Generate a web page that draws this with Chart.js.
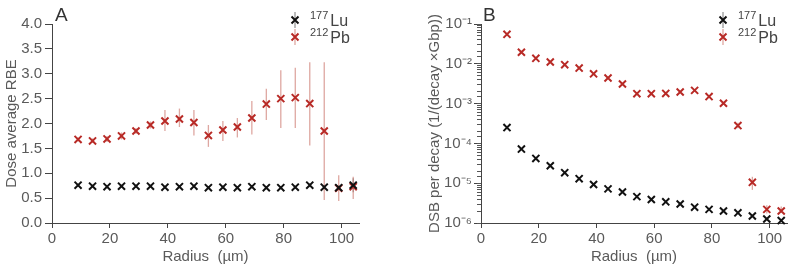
<!DOCTYPE html>
<html>
<head>
<meta charset="utf-8">
<script src="https://cdn.jsdelivr.net/npm/chart.js@4/dist/chart.umd.min.js"></script>
<style>
  body { margin: 0; background: #fff; }
  #wrap { position: relative; width: 794px; height: 270px; }
  .panel { position: absolute; top: 0; height: 270px; }
</style>
</head>
<body>
<div id="wrap">
  <div class="panel" style="left:0;width:400px"><canvas id="rbeChart"></canvas></div>
  <div class="panel" style="left:400px;width:394px"><canvas id="dsbChart"></canvas></div>
</div>
<script>
// Radial positions (um)
const radius = [9, 14, 19, 24, 29, 34, 39, 44, 49, 54, 59, 64, 69, 74, 79, 84, 89, 94, 99, 104];

// Panel A: dose average RBE
const rbeLu = [0.76, 0.74, 0.73, 0.74, 0.74, 0.74, 0.72, 0.73, 0.74, 0.71, 0.72, 0.71, 0.73, 0.71, 0.71, 0.72, 0.76, 0.72, 0.71, 0.76];
const rbeLuLow = [0.73, 0.71, 0.70, 0.71, 0.71, 0.71, 0.69, 0.70, 0.71, 0.68, 0.69, 0.68, 0.70, 0.68, 0.68, 0.69, 0.72, 0.68, 0.66, 0.62];
const rbeLuHigh = [0.79, 0.77, 0.76, 0.77, 0.77, 0.77, 0.75, 0.76, 0.77, 0.74, 0.75, 0.74, 0.76, 0.74, 0.74, 0.75, 0.80, 0.76, 0.76, 0.90];
const rbePb = [1.68, 1.65, 1.69, 1.75, 1.85, 1.97, 2.05, 2.09, 2.02, 1.76, 1.87, 1.93, 2.11, 2.39, 2.50, 2.52, 2.40, 1.85, 0.70, 0.73];
const rbePbLow = [1.64, 1.61, 1.63, 1.68, 1.79, 1.90, 1.85, 1.93, 1.76, 1.53, 1.65, 1.72, 1.78, 2.07, 1.91, 1.91, 1.56, 0.46, 0.44, 0.48];
const rbePbHigh = [1.72, 1.70, 1.75, 1.82, 1.91, 2.04, 2.27, 2.30, 2.27, 1.97, 2.05, 2.11, 2.45, 2.70, 3.07, 3.12, 3.23, 3.23, 0.96, 0.93];

// Panel B: DSB per decay (1/(decay x Gbp))
const dsbLu = [2.5e-4, 7.2e-5, 4.2e-5, 2.75e-5, 1.84e-5, 1.3e-5, 9.3e-6, 7.2e-6, 6.0e-6, 4.6e-6, 3.9e-6, 3.4e-6, 3.0e-6, 2.5e-6, 2.2e-6, 2.0e-6, 1.8e-6, 1.5e-6, 1.26e-6, 1.15e-6];
const dsbPb = [0.055, 0.0195, 0.0137, 0.0111, 0.0095, 0.0078, 0.0056, 0.0044, 0.0031, 0.00178, 0.00178, 0.0018, 0.00196, 0.00215, 0.0015, 0.00102, 0.00028, 1.05e-5, 2.2e-6, 2.0e-6];
const dsbPbLow = [0.052, 0.0185, 0.013, 0.0105, 0.009, 0.0074, 0.0053, 0.0042, 0.0029, 0.0017, 0.0017, 0.0017, 0.00186, 0.00204, 0.00142, 0.00096, 0.00024, 6.8e-6, 1.74e-6, 1.8e-6];
const dsbPbHigh = [0.058, 0.0205, 0.0144, 0.0117, 0.01, 0.0082, 0.0059, 0.0046, 0.0033, 0.00187, 0.00187, 0.0019, 0.00206, 0.00226, 0.00158, 0.00108, 0.00033, 1.45e-5, 2.8e-6, 2.6e-6];

// Tick labels
const radiusTicks = [0, 20, 40, 60, 80, 100];
const decadeTicks = [1e-6, 1e-5, 1e-4, 1e-3, 1e-2, 1e-1];

// Legend labels
const luLabel = { sup: "177", main: "Lu" };
const pbLabel = { sup: "212", main: "Pb" };

const FONT = "'Liberation Sans', Arial, sans-serif";
const LU_COLOR = "#111111";
const PB_COLOR = "#b82a26";
const LU_BAR = "rgba(110,110,110,0.7)";
const PB_BAR = "rgba(205,120,110,0.65)";
const TEXT = "#5a5a5a";

Chart.defaults.font.family = FONT;
Chart.defaults.color = TEXT;

function points(ys) {
  return radius.map((r, i) => ({ x: r, y: ys[i] }));
}

const SUP = { "-": "\u207B", "0": "\u2070", "1": "\u00B9", "2": "\u00B2", "3": "\u00B3", "4": "\u2074", "5": "\u2075", "6": "\u2076", "7": "\u2077", "8": "\u2078", "9": "\u2079" };
function decadeLabel(v) {
  const e = Math.round(Math.log10(v));
  return "10" + String(e).split("").map((c) => SUP[c]).join("");
}

// vertical error bars drawn under the markers
const errorBarsPlugin = {
  id: "errorBars",
  beforeDatasetsDraw(chart) {
    const ctx = chart.ctx;
    chart.data.datasets.forEach((ds, i) => {
      if (!ds.errLow) return;
      const meta = chart.getDatasetMeta(i);
      const xs = chart.scales[meta.xAxisID];
      const ys = chart.scales[meta.yAxisID];
      ctx.save();
      ctx.strokeStyle = ds.errColor;
      ctx.lineWidth = 1.3;
      ds.data.forEach((p, j) => {
        const x = xs.getPixelForValue(p.x);
        ctx.beginPath();
        ctx.moveTo(x, ys.getPixelForValue(ds.errLow[j]));
        ctx.lineTo(x, ys.getPixelForValue(ds.errHigh[j]));
        ctx.stroke();
      });
      ctx.restore();
    });
  },
};

// legend in the top right corner + panel letter
const panelDecorPlugin = {
  id: "panelDecor",
  afterDraw(chart, args, opts) {
    const ctx = chart.ctx;
    ctx.save();
    ctx.fillStyle = "#333";
    ctx.font = "19px " + FONT;
    ctx.textBaseline = "alphabetic";
    ctx.fillText(opts.letter, opts.letterX, 21);

    chart.data.datasets.forEach((ds, i) => {
      const y = opts.legendY + i * 17;
      const x = opts.legendX;
      ctx.strokeStyle = ds.errColor;
      ctx.lineWidth = 1.3;
      ctx.beginPath();
      ctx.moveTo(x, y - 8);
      ctx.lineTo(x, y + 8);
      ctx.stroke();
      ctx.strokeStyle = ds.borderColor;
      ctx.lineWidth = 2;
      ctx.beginPath();
      ctx.moveTo(x - 3.5, y - 3.5);
      ctx.lineTo(x + 3.5, y + 3.5);
      ctx.moveTo(x - 3.5, y + 3.5);
      ctx.lineTo(x + 3.5, y - 3.5);
      ctx.stroke();

      const lab = ds.legendText;
      ctx.fillStyle = "#444";
      ctx.font = "11px " + FONT;
      ctx.fillText(lab.sup, x + 15, y - 1);
      const w = ctx.measureText(lab.sup).width;
      ctx.font = "16px " + FONT;
      ctx.fillText(lab.main, x + 17 + w, y + 6);
    });
    ctx.restore();
  },
};

function axisBase() {
  return {
    border: { display: true, color: "#444", width: 1 },
    grid: { drawOnChartArea: false, drawTicks: true, color: "#444" },
  };
}

function radiusAxis() {
  return {
    ...axisBase(),
    type: "linear",
    min: 0,
    max: 106,
    grid: { drawOnChartArea: false, drawTicks: true, tickLength: 5, color: "#444" },
    ticks: { padding: 2, font: { size: 15 }, color: TEXT },
    afterBuildTicks: (scale) => {
      scale.ticks = radiusTicks.map((v) => ({ value: v }));
    },
    afterFit: (scale) => {
      scale.height = 47;
    },
    title: { display: true, text: "Radius  (\u00B5m)", font: { size: 15 }, color: TEXT, padding: { top: 0, bottom: 4 } },
  };
}

function markerSet(label, ys, color, lo, hi, barColor) {
  return {
    label: label.sup + label.main,
    legendText: label,
    data: points(ys),
    pointStyle: "crossRot",
    pointRadius: 5,
    pointBorderWidth: 2,
    borderColor: color,
    backgroundColor: color,
    showLine: false,
    clip: false,
    errLow: lo,
    errHigh: hi,
    errColor: barColor,
  };
}

const commonPlugins = {
  legend: { display: false },
  tooltip: { enabled: false },
};

// Panel A
new Chart(document.getElementById("rbeChart"), {
  type: "scatter",
  data: {
    datasets: [
      markerSet(luLabel, rbeLu, LU_COLOR, rbeLuLow, rbeLuHigh, LU_BAR),
      markerSet(pbLabel, rbePb, PB_COLOR, rbePbLow, rbePbHigh, PB_BAR),
    ],
  },
  options: {
    responsive: true,
    maintainAspectRatio: false,
    animation: false,
    events: [],
    layout: { padding: { top: 24, right: 41, left: 0, bottom: 0 } },
    plugins: {
      ...commonPlugins,
      panelDecor: { letter: "A", letterX: 55, legendX: 295, legendY: 20 },
    },
    scales: {
      x: radiusAxis(),
      y: {
        ...axisBase(),
        type: "linear",
        min: 0,
        max: 4,
        grid: { drawOnChartArea: false, drawTicks: true, tickLength: 7, color: "#444" },
        ticks: { stepSize: 0.5, padding: 3, font: { size: 15 }, color: TEXT, callback: (v) => v.toFixed(1) },
        afterFit: (scale) => {
          scale.width = 52;
        },
        title: { display: true, text: "Dose average RBE", font: { size: 15 }, color: TEXT, padding: { top: 3, bottom: 0 } },
      },
    },
  },
  plugins: [errorBarsPlugin, panelDecorPlugin],
});

// Panel B
new Chart(document.getElementById("dsbChart"), {
  type: "scatter",
  data: {
    datasets: [
      markerSet(luLabel, dsbLu, LU_COLOR, null, null, LU_BAR),
      markerSet(pbLabel, dsbPb, PB_COLOR, dsbPbLow, dsbPbHigh, PB_BAR),
    ],
  },
  options: {
    responsive: true,
    maintainAspectRatio: false,
    animation: false,
    events: [],
    layout: { padding: { top: 24, right: 6, left: 0, bottom: 0 } },
    plugins: {
      ...commonPlugins,
      panelDecor: { letter: "B", letterX: 83, legendX: 323, legendY: 20 },
    },
    scales: {
      x: radiusAxis(),
      y: {
        ...axisBase(),
        type: "logarithmic",
        position: "left",
        weight: 1,
        min: 1e-6,
        max: 1e-1,
        grid: { drawOnChartArea: false, drawTicks: true, tickLength: 7, color: "#444" },
        ticks: { padding: 2, font: { size: 15 }, color: TEXT, callback: (v) => decadeLabel(v) },
        afterBuildTicks: (scale) => {
          scale.ticks = decadeTicks.map((v) => ({ value: v, major: true }));
        },
        afterFit: (scale) => {
          scale.width = 81;
        },
        title: { display: true, text: "DSB per decay (1/(decay \u00D7Gbp))", font: { size: 15 }, color: TEXT, padding: { top: 26, bottom: 0 } },
      },
      yMinor: {
        type: "logarithmic",
        position: "left",
        weight: 0,
        min: 1e-6,
        max: 1e-1,
        border: { display: false },
        grid: { drawOnChartArea: false, drawTicks: true, tickLength: 4, color: "#555" },
        ticks: { display: false },
        afterFit: (scale) => {
          scale.width = 0;
        },
      },
    },
  },
  plugins: [errorBarsPlugin, panelDecorPlugin],
});
</script>
</body>
</html>
